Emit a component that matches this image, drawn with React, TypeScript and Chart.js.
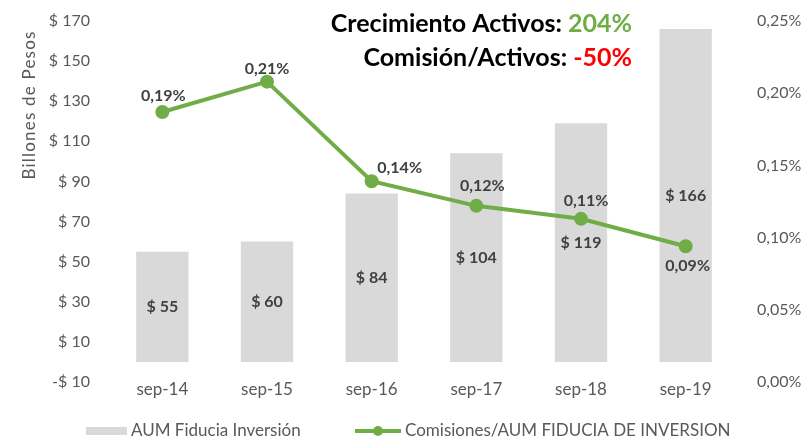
import React, { useEffect, useRef } from "react";
import { Chart, registerables } from "chart.js";

Chart.register(...registerables);

const categories = ["sep-14", "sep-15", "sep-16", "sep-17", "sep-18", "sep-19"];
const aumValues = [55, 60, 84, 104, 119, 166];
const comisionValues = [0.187, 0.208, 0.139, 0.122, 0.113, 0.094];
const leftTicks = { min: -10, max: 170, step: 20 };
const rightTicks = { min: 0, max: 0.25, step: 0.05 };
const barLabel = "AUM Fiducia Inversión";
const lineLabel = "Comisiones/AUM FIDUCIA DE INVERSION";
const yTitle = "Billones de Pesos";
const headline1 = ["Crecimiento Activos: ", "204%"];
const headline2 = ["Comisión/Activos: ", "-50%"];

const FONT = "Lato, 'Open Sans', sans-serif";
const GRAY_TEXT = "#595959";
const LABEL_TEXT = "#404040";
const BAR_COLOR = "#D9D9D9";
const GREEN = "#70AD47";

const fmtMoney = (v: number) => (v < 0 ? "-$ " + Math.abs(v) : "$ " + v);
const fmtPct = (v: number) => v.toFixed(2).replace(".", ",") + "%";

// label placement for the line: [dx, dy]
const lineLabelOffsets: [number, number][] = [
  [1, -16],
  [0, -13],
  [28, -13],
  [6, -20],
  [5, -18],
  [2, 20],
];

const overlayPlugin = {
  id: "overlay",
  afterDatasetsDraw(chart: any) {
    const ctx = chart.ctx;
    ctx.save();
    // bar labels
    const barMeta = chart.getDatasetMeta(0);
    ctx.font = "bold 16px " + FONT;
    ctx.fillStyle = LABEL_TEXT;
    ctx.textAlign = "center";
    ctx.textBaseline = "middle";
    barMeta.data.forEach((el: any, i: number) => {
      const y = (el.y + el.base) / 2;
      ctx.fillText(fmtMoney(aumValues[i]), el.x, y);
    });
    // line labels
    const lineMeta = chart.getDatasetMeta(1);
    lineMeta.data.forEach((el: any, i: number) => {
      const [dx, dy] = lineLabelOffsets[i];
      ctx.fillText(fmtPct(comisionValues[i]), el.x + dx, el.y + dy);
    });

    // y axis title
    ctx.save();
    ctx.translate(30, 105);
    ctx.rotate(-Math.PI / 2);
    ctx.font = "17px " + FONT;
    try { (ctx as any).letterSpacing = "1.2px"; } catch (e) {}
    ctx.fillStyle = GRAY_TEXT;
    ctx.textAlign = "center";
    ctx.textBaseline = "middle";
    ctx.fillText(yTitle, 0, 0);
    ctx.restore();

    // headlines (right aligned)
    ctx.font = "bold 25px " + FONT;
    ctx.textBaseline = "middle";
    ctx.textAlign = "left";
    const rightX = 632;
    const drawLine = (parts: string[], color: string, y: number) => {
      const w1 = ctx.measureText(parts[0]).width;
      const w2 = ctx.measureText(parts[1]).width;
      const x0 = rightX - w1 - w2;
      ctx.fillStyle = "#000000";
      ctx.fillText(parts[0], x0, y);
      ctx.fillStyle = color;
      ctx.fillText(parts[1], x0 + w1, y);
    };
    drawLine(headline1, GREEN, 24);
    drawLine(headline2, "#FF0000", 58);

    // legend
    const ly = 431;
    ctx.fillStyle = BAR_COLOR;
    ctx.fillRect(86, ly - 4, 41, 8);
    ctx.font = "17px " + FONT;
    ctx.fillStyle = GRAY_TEXT;
    ctx.textAlign = "left";
    ctx.fillText(barLabel, 131, ly);
    ctx.strokeStyle = GREEN;
    ctx.lineWidth = 4;
    ctx.beginPath();
    ctx.moveTo(355, ly);
    ctx.lineTo(401, ly);
    ctx.stroke();
    ctx.fillStyle = GREEN;
    ctx.beginPath();
    ctx.arc(378, ly, 5, 0, Math.PI * 2);
    ctx.fill();
    ctx.fillStyle = GRAY_TEXT;
    ctx.fillText(lineLabel, 405, ly);
    ctx.restore();
  },
};

export default function App() {
  const canvasRef = useRef<HTMLCanvasElement | null>(null);

  useEffect(() => {
    document.body.style.margin = "0";
    const canvas = canvasRef.current;
    if (!canvas) return;
    const chart = new Chart(canvas, {
      type: "bar",
      data: {
        labels: categories,
        datasets: [
          {
            type: "bar",
            label: barLabel,
            data: aumValues,
            backgroundColor: BAR_COLOR,
            borderWidth: 0,
            categoryPercentage: 1,
            barPercentage: 0.5,
            yAxisID: "y",
            order: 2,
          },
          {
            type: "line",
            label: lineLabel,
            data: comisionValues,
            borderColor: GREEN,
            backgroundColor: GREEN,
            borderWidth: 4,
            pointRadius: 5,
            pointBackgroundColor: GREEN,
            pointBorderColor: GREEN,
            tension: 0,
            yAxisID: "y1",
            order: 1,
          } as any,
        ],
      },
      options: {
        responsive: false,
        maintainAspectRatio: false,
        animation: false,
        layout: { padding: { top: 21, bottom: 28, left: 0, right: 0 } },
        plugins: {
          legend: { display: false },
          tooltip: { enabled: false },
          title: { display: false },
        },
        scales: {
          x: {
            grid: { display: false, drawTicks: false },
            border: { display: false },
            ticks: {
              color: GRAY_TEXT,
              font: { family: FONT, size: 17 },
              padding: -3,
              maxRotation: 0,
            },
            afterFit(scale: any) {
              scale.height = 30;
              scale.paddingLeft = 0;
              scale.paddingRight = 0;
            },
          },
          y: {
            position: "left",
            min: leftTicks.min,
            max: leftTicks.max,
            grid: {
              drawTicks: false,
              drawOnChartArea: true,
              color: (c: any) => (c.tick && c.tick.value === 0 ? "#D9D9D9" : "rgba(0,0,0,0)"),
              lineWidth: 1.5,
            },
            border: { display: false },
            ticks: {
              stepSize: leftTicks.step,
              color: GRAY_TEXT,
              font: { family: FONT, size: 16 },
              padding: 20,
              callback: (v: any) => fmtMoney(Number(v)),
            },
            afterFit(scale: any) {
              scale.width = 110;
              scale.paddingTop = 0;
              scale.paddingBottom = 0;
            },
          },
          y1: {
            position: "right",
            min: rightTicks.min,
            max: rightTicks.max,
            grid: { display: false, drawTicks: false },
            border: { display: false },
            ticks: {
              stepSize: rightTicks.step,
              color: GRAY_TEXT,
              font: { family: FONT, size: 16 },
              padding: 19,
              callback: (v: any) => fmtPct(Number(v)),
            },
            afterFit(scale: any) {
              scale.width = 72;
              scale.paddingTop = 0;
              scale.paddingBottom = 0;
            },
          },
        },
      },
      plugins: [overlayPlugin],
    });
    return () => chart.destroy();
  }, []);

  return (
    <div style={{ width: 810, height: 440, background: "#fff" }}>
      <canvas ref={canvasRef} width={810} height={440} style={{ display: "block" }} />
    </div>
  );
}
